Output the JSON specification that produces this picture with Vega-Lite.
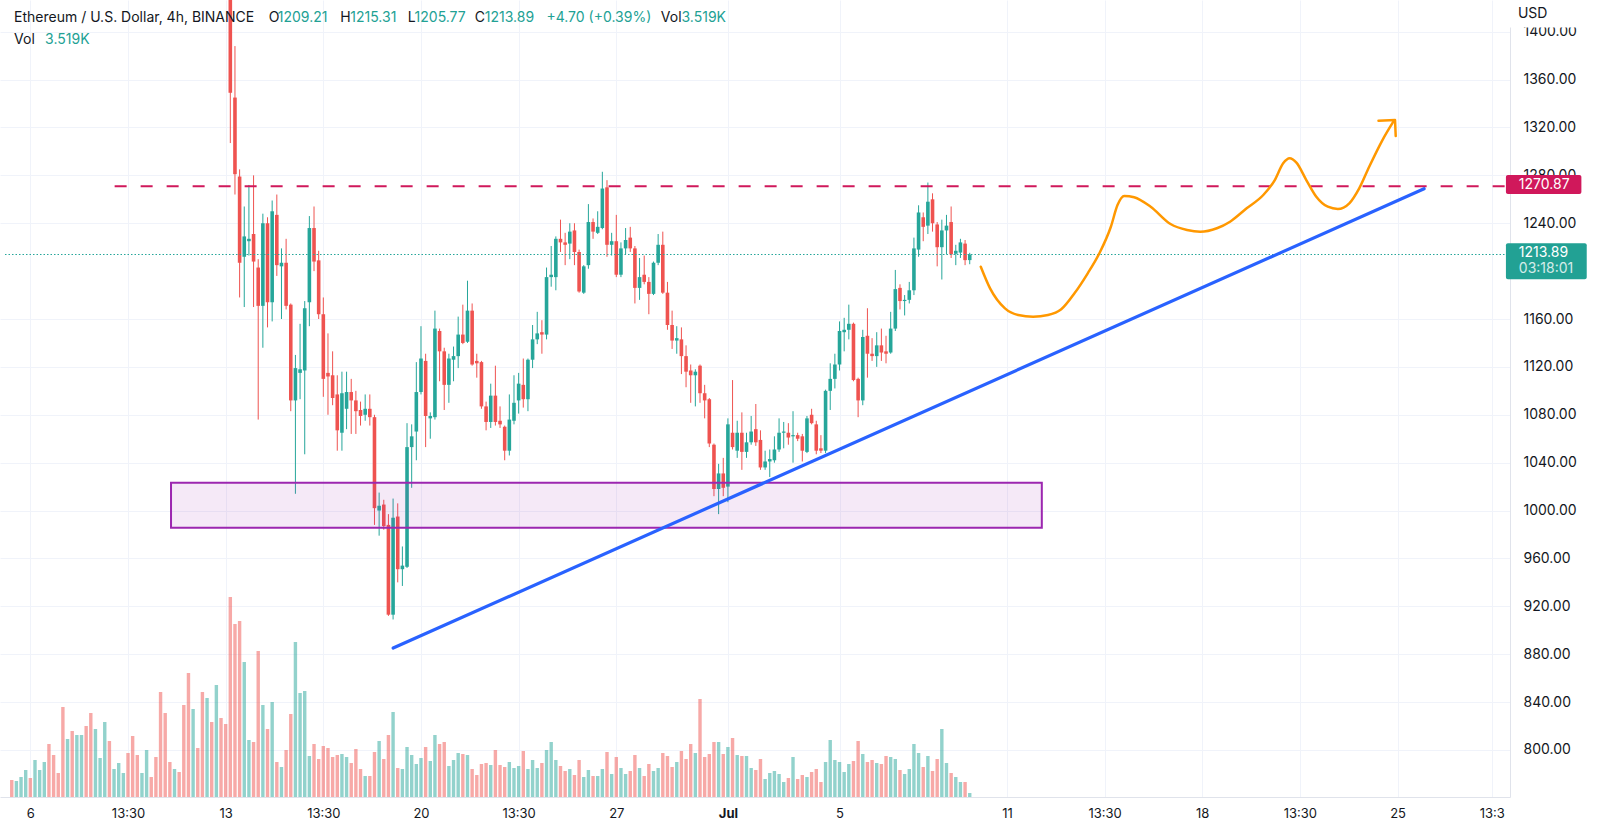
{
  "$schema": "https://vega.github.io/schema/vega-lite/v6.json",
  "width": 1510,
  "height": 797,
  "autosize": "none",
  "padding": {"left": 0, "top": 0, "right": 90, "bottom": 33},
  "background": "#ffffff",
  "config": {"view": {"stroke": null}, "font": "Inter", "axis": {"labelFont": "Inter"}},
  "datasets": {
    "candles": [
      {"t":-16,"v":17,"d":"d"},{"t":-12,"v":16,"d":"u"},{"t":-8,"v":20,"d":"u"},{"t":-4,"v":27,"d":"u"},{"t":0,"v":19,"d":"d"},{"t":4,"v":37,"d":"u"},{"t":8,"v":27,"d":"u"},{"t":12,"v":35,"d":"u"},{"t":16,"v":53,"d":"d"},{"t":20,"v":42,"d":"d"},{"t":24,"v":24,"d":"d"},{"t":28,"v":90,"d":"d"},{"t":32,"v":58,"d":"u"},{"t":36,"v":66,"d":"d"},{"t":40,"v":62,"d":"u"},{"t":44,"v":62,"d":"u"},{"t":48,"v":71,"d":"d"},{"t":52,"v":84,"d":"d"},{"t":56,"v":68,"d":"u"},{"t":60,"v":39,"d":"u"},{"t":64,"v":75,"d":"u"},{"t":68,"v":56,"d":"d"},{"t":72,"v":28,"d":"u"},{"t":76,"v":34,"d":"u"},{"t":80,"v":24,"d":"u"},{"t":84,"v":44,"d":"d"},{"t":88,"v":61,"d":"d"},{"t":92,"v":42,"d":"d"},{"t":96,"v":24,"d":"u"},{"t":100,"v":47,"d":"u"},{"t":104,"v":20,"d":"d"},{"t":108,"v":40,"d":"d"},{"t":112,"v":105,"d":"d"},{"t":116,"v":84,"d":"d"},{"t":120,"v":35,"d":"d"},{"t":124,"v":28,"d":"u"},{"t":128,"v":25,"d":"d"},{"t":132,"v":92,"d":"d"},{"t":136,"v":124,"d":"d"},{"t":140,"v":88,"d":"u"},{"t":144,"v":49,"d":"d"},{"t":148,"v":105,"d":"d"},{"t":152,"v":99,"d":"u"},{"t":156,"v":75,"d":"d"},{"t":160,"v":112,"d":"u"},{"t":164,"v":79,"d":"d"},{"t":168,"v":73,"d":"d"},
      {"t":172,"o":1445,"h":1450,"l":1307,"c":1349,"v":200,"d":"d"},
      {"t":176,"o":1345,"h":1388,"l":1264,"c":1281,"v":173,"d":"d"},
      {"t":180,"o":1279,"h":1285,"l":1178,"c":1207,"v":176,"d":"d"},
      {"t":184,"o":1212,"h":1254,"l":1170,"c":1229,"v":135,"d":"u"},
      {"t":188,"o":1225,"h":1272,"l":1213,"c":1227,"v":57,"d":"u"},
      {"t":192,"o":1231,"h":1280,"l":1170,"c":1208,"v":55,"d":"d"},
      {"t":196,"o":1203,"h":1210,"l":1076,"c":1171,"v":146,"d":"d"},
      {"t":200,"o":1171,"h":1248,"l":1136,"c":1240,"v":92,"d":"u"},
      {"t":204,"o":1240,"h":1245,"l":1153,"c":1174,"v":68,"d":"d"},
      {"t":208,"o":1174,"h":1259,"l":1158,"c":1250,"v":95,"d":"u"},
      {"t":212,"o":1247,"h":1264,"l":1196,"c":1205,"v":35,"d":"d"},
      {"t":216,"o":1204,"h":1219,"l":1160,"c":1207,"v":30,"d":"u"},
      {"t":220,"o":1207,"h":1227,"l":1168,"c":1171,"v":47,"d":"d"},
      {"t":224,"o":1172,"h":1173,"l":1083,"c":1092,"v":83,"d":"d"},
      {"t":228,"o":1092,"h":1130,"l":1014,"c":1119,"v":155,"d":"u"},
      {"t":232,"o":1115,"h":1156,"l":1093,"c":1118,"v":104,"d":"u"},
      {"t":236,"o":1117,"h":1175,"l":1047,"c":1169,"v":106,"d":"u"},
      {"t":240,"o":1174,"h":1246,"l":1154,"c":1236,"v":41,"d":"u"},
      {"t":244,"o":1236,"h":1254,"l":1200,"c":1208,"v":53,"d":"d"},
      {"t":248,"o":1209,"h":1217,"l":1160,"c":1164,"v":38,"d":"d"},
      {"t":252,"o":1164,"h":1178,"l":1095,"c":1110,"v":51,"d":"d"},
      {"t":256,"o":1115,"h":1148,"l":1080,"c":1112,"v":49,"d":"d"},
      {"t":260,"o":1113,"h":1133,"l":1088,"c":1094,"v":40,"d":"d"},
      {"t":264,"o":1097,"h":1113,"l":1050,"c":1067,"v":42,"d":"d"},
      {"t":268,"o":1065,"h":1116,"l":1050,"c":1098,"v":43,"d":"u"},
      {"t":272,"o":1085,"h":1116,"l":1068,"c":1099,"v":40,"d":"u"},
      {"t":276,"o":1099,"h":1110,"l":1064,"c":1092,"v":34,"d":"d"},
      {"t":280,"o":1092,"h":1100,"l":1064,"c":1083,"v":48,"d":"d"},
      {"t":284,"o":1084,"h":1091,"l":1071,"c":1079,"v":28,"d":"d"},
      {"t":288,"o":1080,"h":1097,"l":1075,"c":1085,"v":21,"d":"u"},
      {"t":292,"o":1085,"h":1097,"l":1071,"c":1078,"v":21,"d":"d"},
      {"t":296,"o":1078,"h":1080,"l":988,"c":1002,"v":45,"d":"d"},
      {"t":300,"o":1000,"h":1015,"l":979,"c":1004,"v":56,"d":"u"},
      {"t":304,"o":1005,"h":1009,"l":984,"c":987,"v":38,"d":"d"},
      {"t":308,"o":988,"h":997,"l":912,"c":913,"v":62,"d":"d"},
      {"t":312,"o":913,"h":1010,"l":909,"c":994,"v":85,"d":"u"},
      {"t":316,"o":995,"h":1006,"l":940,"c":951,"v":29,"d":"d"},
      {"t":320,"o":951,"h":970,"l":937,"c":954,"v":28,"d":"u"},
      {"t":324,"o":953,"h":1073,"l":952,"c":1053,"v":50,"d":"u"},
      {"t":328,"o":1053,"h":1072,"l":1019,"c":1062,"v":42,"d":"u"},
      {"t":332,"o":1066,"h":1124,"l":1042,"c":1099,"v":33,"d":"u"},
      {"t":336,"o":1099,"h":1154,"l":1097,"c":1127,"v":39,"d":"u"},
      {"t":340,"o":1125,"h":1131,"l":1053,"c":1079,"v":50,"d":"d"},
      {"t":344,"o":1077,"h":1082,"l":1060,"c":1079,"v":36,"d":"u"},
      {"t":348,"o":1078,"h":1167,"l":1076,"c":1152,"v":62,"d":"u"},
      {"t":352,"o":1150,"h":1152,"l":1108,"c":1133,"v":53,"d":"d"},
      {"t":356,"o":1133,"h":1136,"l":1084,"c":1105,"v":55,"d":"d"},
      {"t":360,"o":1105,"h":1131,"l":1090,"c":1127,"v":31,"d":"u"},
      {"t":364,"o":1126,"h":1137,"l":1108,"c":1129,"v":37,"d":"u"},
      {"t":368,"o":1129,"h":1162,"l":1119,"c":1147,"v":44,"d":"u"},
      {"t":372,"o":1147,"h":1172,"l":1139,"c":1140,"v":43,"d":"d"},
      {"t":376,"o":1141,"h":1192,"l":1140,"c":1167,"v":42,"d":"u"},
      {"t":380,"o":1167,"h":1173,"l":1121,"c":1122,"v":28,"d":"d"},
      {"t":384,"o":1125,"h":1131,"l":1111,"c":1123,"v":22,"d":"d"},
      {"t":388,"o":1124,"h":1125,"l":1085,"c":1087,"v":33,"d":"d"},
      {"t":392,"o":1087,"h":1091,"l":1067,"c":1074,"v":34,"d":"d"},
      {"t":396,"o":1074,"h":1106,"l":1069,"c":1096,"v":32,"d":"u"},
      {"t":400,"o":1096,"h":1121,"l":1071,"c":1074,"v":47,"d":"d"},
      {"t":404,"o":1075,"h":1087,"l":1069,"c":1072,"v":32,"d":"d"},
      {"t":408,"o":1070,"h":1071,"l":1042,"c":1050,"v":30,"d":"d"},
      {"t":412,"o":1050,"h":1097,"l":1046,"c":1076,"v":35,"d":"u"},
      {"t":416,"o":1075,"h":1113,"l":1072,"c":1090,"v":29,"d":"u"},
      {"t":420,"o":1092,"h":1115,"l":1081,"c":1106,"v":31,"d":"u"},
      {"t":424,"o":1105,"h":1127,"l":1086,"c":1093,"v":46,"d":"d"},
      {"t":428,"o":1093,"h":1127,"l":1083,"c":1126,"v":28,"d":"u"},
      {"t":432,"o":1126,"h":1155,"l":1119,"c":1143,"v":37,"d":"u"},
      {"t":436,"o":1143,"h":1166,"l":1139,"c":1148,"v":29,"d":"u"},
      {"t":440,"o":1149,"h":1159,"l":1131,"c":1147,"v":34,"d":"d"},
      {"t":444,"o":1147,"h":1203,"l":1143,"c":1195,"v":47,"d":"u"},
      {"t":448,"o":1195,"h":1221,"l":1187,"c":1197,"v":55,"d":"u"},
      {"t":452,"o":1195,"h":1229,"l":1184,"c":1227,"v":37,"d":"u"},
      {"t":456,"o":1227,"h":1243,"l":1216,"c":1224,"v":31,"d":"d"},
      {"t":460,"o":1224,"h":1232,"l":1205,"c":1222,"v":26,"d":"d"},
      {"t":464,"o":1223,"h":1240,"l":1210,"c":1233,"v":28,"d":"u"},
      {"t":468,"o":1234,"h":1240,"l":1205,"c":1216,"v":22,"d":"d"},
      {"t":472,"o":1216,"h":1218,"l":1182,"c":1183,"v":37,"d":"d"},
      {"t":476,"o":1182,"h":1205,"l":1181,"c":1204,"v":20,"d":"u"},
      {"t":480,"o":1205,"h":1256,"l":1202,"c":1241,"v":27,"d":"u"},
      {"t":484,"o":1241,"h":1244,"l":1227,"c":1233,"v":21,"d":"d"},
      {"t":488,"o":1232,"h":1250,"l":1231,"c":1237,"v":21,"d":"u"},
      {"t":492,"o":1236,"h":1283,"l":1235,"c":1269,"v":28,"d":"u"},
      {"t":496,"o":1270,"h":1276,"l":1212,"c":1222,"v":45,"d":"d"},
      {"t":500,"o":1222,"h":1232,"l":1213,"c":1225,"v":23,"d":"u"},
      {"t":504,"o":1225,"h":1247,"l":1195,"c":1197,"v":40,"d":"d"},
      {"t":508,"o":1197,"h":1224,"l":1195,"c":1219,"v":29,"d":"u"},
      {"t":512,"o":1219,"h":1236,"l":1214,"c":1226,"v":23,"d":"u"},
      {"t":516,"o":1228,"h":1237,"l":1216,"c":1219,"v":26,"d":"d"},
      {"t":520,"o":1219,"h":1221,"l":1173,"c":1186,"v":42,"d":"d"},
      {"t":524,"o":1186,"h":1211,"l":1176,"c":1195,"v":29,"d":"u"},
      {"t":528,"o":1197,"h":1213,"l":1189,"c":1191,"v":21,"d":"d"},
      {"t":532,"o":1191,"h":1195,"l":1164,"c":1181,"v":33,"d":"d"},
      {"t":536,"o":1181,"h":1208,"l":1180,"c":1207,"v":26,"d":"u"},
      {"t":540,"o":1207,"h":1231,"l":1205,"c":1222,"v":29,"d":"u"},
      {"t":544,"o":1222,"h":1233,"l":1181,"c":1182,"v":44,"d":"d"},
      {"t":548,"o":1182,"h":1191,"l":1151,"c":1155,"v":41,"d":"d"},
      {"t":552,"o":1155,"h":1167,"l":1135,"c":1142,"v":30,"d":"d"},
      {"t":556,"o":1142,"h":1154,"l":1131,"c":1144,"v":35,"d":"u"},
      {"t":560,"o":1143,"h":1153,"l":1114,"c":1129,"v":46,"d":"d"},
      {"t":564,"o":1129,"h":1138,"l":1103,"c":1116,"v":38,"d":"d"},
      {"t":568,"o":1117,"h":1122,"l":1090,"c":1113,"v":53,"d":"d"},
      {"t":572,"o":1113,"h":1118,"l":1087,"c":1116,"v":44,"d":"u"},
      {"t":576,"o":1121,"h":1122,"l":1090,"c":1098,"v":98,"d":"d"},
      {"t":580,"o":1098,"h":1105,"l":1077,"c":1092,"v":40,"d":"d"},
      {"t":584,"o":1093,"h":1094,"l":1053,"c":1056,"v":43,"d":"d"},
      {"t":588,"o":1055,"h":1056,"l":1012,"c":1018,"v":55,"d":"d"},
      {"t":592,"o":1018,"h":1039,"l":997,"c":1031,"v":55,"d":"u"},
      {"t":596,"o":1031,"h":1044,"l":1012,"c":1019,"v":43,"d":"d"},
      {"t":600,"o":1020,"h":1077,"l":1007,"c":1072,"v":50,"d":"u"},
      {"t":604,"o":1065,"h":1109,"l":1051,"c":1053,"v":59,"d":"d"},
      {"t":608,"o":1050,"h":1075,"l":1044,"c":1065,"v":42,"d":"u"},
      {"t":612,"o":1065,"h":1082,"l":1034,"c":1049,"v":41,"d":"d"},
      {"t":616,"o":1049,"h":1065,"l":1044,"c":1057,"v":41,"d":"u"},
      {"t":620,"o":1057,"h":1079,"l":1055,"c":1066,"v":29,"d":"u"},
      {"t":624,"o":1068,"h":1089,"l":1054,"c":1057,"v":27,"d":"d"},
      {"t":628,"o":1059,"h":1067,"l":1034,"c":1036,"v":38,"d":"d"},
      {"t":632,"o":1036,"h":1050,"l":1034,"c":1041,"v":18,"d":"u"},
      {"t":636,"o":1041,"h":1051,"l":1028,"c":1043,"v":24,"d":"u"},
      {"t":640,"o":1042,"h":1062,"l":1040,"c":1051,"v":26,"d":"u"},
      {"t":644,"o":1051,"h":1077,"l":1049,"c":1065,"v":23,"d":"u"},
      {"t":648,"o":1065,"h":1074,"l":1052,"c":1066,"v":15,"d":"u"},
      {"t":652,"o":1065,"h":1073,"l":1055,"c":1061,"v":19,"d":"d"},
      {"t":656,"o":1062,"h":1083,"l":1040,"c":1063,"v":40,"d":"u"},
      {"t":660,"o":1063,"h":1065,"l":1058,"c":1060,"v":18,"d":"d"},
      {"t":664,"o":1062,"h":1064,"l":1041,"c":1050,"v":22,"d":"d"},
      {"t":668,"o":1049,"h":1079,"l":1048,"c":1077,"v":20,"d":"u"},
      {"t":672,"o":1080,"h":1085,"l":1072,"c":1073,"v":25,"d":"d"},
      {"t":676,"o":1072,"h":1075,"l":1047,"c":1050,"v":28,"d":"d"},
      {"t":680,"o":1052,"h":1063,"l":1048,"c":1050,"v":15,"d":"d"},
      {"t":684,"o":1050,"h":1101,"l":1048,"c":1100,"v":35,"d":"u"},
      {"t":688,"o":1100,"h":1123,"l":1084,"c":1110,"v":57,"d":"u"},
      {"t":692,"o":1110,"h":1131,"l":1102,"c":1122,"v":37,"d":"u"},
      {"t":696,"o":1122,"h":1158,"l":1117,"c":1150,"v":35,"d":"u"},
      {"t":700,"o":1149,"h":1161,"l":1133,"c":1151,"v":25,"d":"u"},
      {"t":704,"o":1151,"h":1172,"l":1143,"c":1156,"v":33,"d":"u"},
      {"t":708,"o":1156,"h":1157,"l":1108,"c":1109,"v":36,"d":"d"},
      {"t":712,"o":1110,"h":1111,"l":1078,"c":1092,"v":56,"d":"d"},
      {"t":716,"o":1092,"h":1151,"l":1088,"c":1145,"v":43,"d":"u"},
      {"t":720,"o":1146,"h":1169,"l":1111,"c":1131,"v":35,"d":"d"},
      {"t":724,"o":1131,"h":1144,"l":1125,"c":1129,"v":37,"d":"d"},
      {"t":728,"o":1129,"h":1149,"l":1120,"c":1138,"v":34,"d":"u"},
      {"t":732,"o":1138,"h":1152,"l":1125,"c":1132,"v":33,"d":"d"},
      {"t":736,"o":1133,"h":1146,"l":1123,"c":1131,"v":41,"d":"d"},
      {"t":740,"o":1132,"h":1166,"l":1131,"c":1152,"v":40,"d":"u"},
      {"t":744,"o":1152,"h":1201,"l":1150,"c":1185,"v":38,"d":"u"},
      {"t":748,"o":1186,"h":1189,"l":1168,"c":1175,"v":27,"d":"d"},
      {"t":752,"o":1175,"h":1180,"l":1163,"c":1176,"v":23,"d":"u"},
      {"t":756,"o":1176,"h":1191,"l":1173,"c":1184,"v":28,"d":"u"},
      {"t":760,"o":1184,"h":1228,"l":1180,"c":1219,"v":53,"d":"u"},
      {"t":764,"o":1218,"h":1255,"l":1212,"c":1249,"v":44,"d":"u"},
      {"t":768,"o":1245,"h":1249,"l":1225,"c":1237,"v":30,"d":"d"},
      {"t":772,"o":1238,"h":1274,"l":1231,"c":1258,"v":41,"d":"u"},
      {"t":776,"o":1260,"h":1265,"l":1233,"c":1240,"v":26,"d":"d"},
      {"t":780,"o":1239,"h":1241,"l":1204,"c":1220,"v":38,"d":"d"},
      {"t":784,"o":1220,"h":1243,"l":1193,"c":1234,"v":68,"d":"u"},
      {"t":788,"o":1234,"h":1247,"l":1214,"c":1238,"v":34,"d":"u"},
      {"t":792,"o":1241,"h":1254,"l":1211,"c":1214,"v":24,"d":"d"},
      {"t":796,"o":1214.5,"h":1222,"l":1205,"c":1217,"v":20,"d":"u"},
      {"t":800,"o":1215.5,"h":1227,"l":1211,"c":1224,"v":15,"d":"u"},
      {"t":804,"o":1223,"h":1226,"l":1205,"c":1209.2,"v":15,"d":"d"},
      {"t":808,"o":1209.21,"h":1215.31,"l":1205.77,"c":1213.89,"v":4,"d":"u"}
    ],
    "curve": [
      {"i":1,"t":817.5,"p":1203.7},{"i":2,"t":825.5,"p":1185.6},{"i":3,"t":838.3,"p":1168.9},{"i":4,"t":849.7,"p":1163.3},{"i":5,"t":862.5,"p":1161.9},{"i":6,"t":875.3,"p":1163.3},{"i":7,"t":886.7,"p":1168.1},{"i":8,"t":898.1,"p":1181.5},{"i":9,"t":909.5,"p":1198.2},{"i":10,"t":919.5,"p":1214.9},{"i":11,"t":929.4,"p":1237.1},{"i":12,"t":935.1,"p":1255.2},{"i":13,"t":940.9,"p":1262.8},{"i":14,"t":949.4,"p":1261.7},{"i":15,"t":963.6,"p":1253.8},{"i":16,"t":980.7,"p":1239.4},{"i":17,"t":994.9,"p":1234.4},{"i":18,"t":1006.3,"p":1232.9},{"i":19,"t":1020.6,"p":1235.8},{"i":20,"t":1031.9,"p":1241.3},{"i":21,"t":1046.2,"p":1252.5},{"i":22,"t":1060.5,"p":1263.6},{"i":23,"t":1070.4,"p":1276.1},{"i":24,"t":1077.6,"p":1290.1},{"i":25,"t":1083.2,"p":1294.3},{"i":26,"t":1089.0,"p":1290.6},{"i":27,"t":1097.5,"p":1276.1},{"i":28,"t":1106.1,"p":1262.2},{"i":29,"t":1116.0,"p":1253.8},{"i":30,"t":1124.6,"p":1251.9},{"i":31,"t":1134.5,"p":1256.7},{"i":32,"t":1143.0,"p":1269.2},{"i":33,"t":1151.6,"p":1287.2},{"i":34,"t":1163.0,"p":1309.5},{"i":35,"t":1172.9,"p":1325.7}
    ],
    "arrow": [
      {"i":1,"t":1159.6,"p":1325.7},{"i":2,"t":1173.8,"p":1326.3},{"i":3,"t":1174.4,"p":1312.9}
    ],
    "darkText": [
      {"t":-14,"p":1411.1,"s":"Ethereum / U.S. Dollar, 4h, BINANCE"},
      {"t":205,"p":1411.1,"s":"O"},
      {"t":266.6,"p":1411.1,"s":"H"},
      {"t":324.6,"p":1411.1,"s":"L"},
      {"t":382.3,"p":1411.1,"s":"C"},
      {"t":542.3,"p":1411.1,"s":"Vol"},
      {"t":-14,"p":1393.1,"s":"Vol"},
      {"t":1279.5,"p":1414.8,"s":"USD"}
    ],
    "tealText": [
      {"t":212.8,"p":1411.1,"s":"1209.21"},
      {"t":275.2,"p":1411.1,"s":"1215.31"},
      {"t":330.5,"p":1411.1,"s":"1205.77"},
      {"t":390.9,"p":1411.1,"s":"1213.89"},
      {"t":443.9,"p":1411.1,"s":"+4.70 (+0.39%)"},
      {"t":560.1,"p":1411.1,"s":"3.519K"},
      {"t":12.7,"p":1393.1,"s":"3.519K"}
    ]
  },
  "encoding": {
    "x": {
      "field": "t",
      "type": "quantitative",
      "scale": {"domain": [-21.8, 1268.4], "nice": false, "zero": false},
      "axis": {
        "title": null,
        "values": [0, 84, 168, 252, 336, 420, 504, 600, 696, 840, 924, 1008, 1092, 1176, 1257],
        "labelExpr": "['6','13:30','13','13:30','20','13:30','27','Jul','5','11','13:30','18','13:30','25','13:3'][indexof([0,84,168,252,336,420,504,600,696,840,924,1008,1092,1176,1257], datum.value)]",
        "grid": true,
        "gridColor": "#f0f3fa",
        "domainColor": "#e0e3eb",
        "ticks": false,
        "labelPadding": 10,
        "labelFontSize": 13,
        "labelColor": "#131722",
        "labelFlush": false,
        "labelOverlap": false,
        "labelFontWeight": {"condition": {"test": "datum.value == 600", "value": "bold"}, "value": "normal"}
      }
    }
  },
  "layer": [
    {
      "data": {"name": "candles"},
      "mark": {"type": "bar", "size": 3.4, "opacity": 0.5, "orient": "vertical"},
      "encoding": {
        "y": {"field": "v", "type": "quantitative", "scale": {"domain": [0, 797], "nice": false}, "axis": null},
        "color": {"field": "d", "type": "nominal", "scale": {"domain": ["u", "d"], "range": ["#26a69a", "#ef5350"]}, "legend": null}
      }
    },
    {
      "data": {"name": "candles"},
      "transform": [{"filter": "isValid(datum.o)"}],
      "mark": {"type": "rule", "strokeWidth": 1, "clip": true},
      "encoding": {
        "y": {"field": "l", "type": "quantitative", "scale": {"domain": [760.7, 1426.5], "nice": false, "zero": false}, "axis": null},
        "y2": {"field": "h"},
        "color": {"field": "d", "type": "nominal", "scale": {"domain": ["u", "d"], "range": ["#26a69a", "#ef5350"]}, "legend": null}
      }
    },
    {
      "data": {"name": "candles"},
      "transform": [{"filter": "isValid(datum.o)"}],
      "mark": {"type": "bar", "size": 3.6, "orient": "vertical", "clip": true},
      "encoding": {
        "y": {
          "field": "o",
          "type": "quantitative",
          "scale": {"domain": [760.7, 1426.5], "nice": false, "zero": false},
          "axis": {
            "orient": "right",
            "title": null,
            "values": [800, 840, 880, 920, 960, 1000, 1040, 1080, 1120, 1160, 1240, 1280, 1320, 1360, 1400],
            "format": ".2f",
            "labelAlign": "left",
            "labelBaseline": "middle",
            "labelPadding": 13,
            "labelFontSize": 14,
            "labelColor": "#131722",
            "labelFlush": false,
            "labelOverlap": false,
            "grid": true,
            "gridColor": "#f0f3fa",
            "domainColor": "#e0e3eb",
            "ticks": false
          }
        },
        "y2": {"field": "c"},
        "color": {"field": "d", "type": "nominal", "scale": {"domain": ["u", "d"], "range": ["#26a69a", "#ef5350"]}, "legend": null}
      }
    },
    {
      "data": {"values": [{"t": 121, "t2": 870, "p": 985.6, "p2": 1023.2}]},
      "mark": {"type": "rect", "fill": "#9c27b0", "fillOpacity": 0.1, "stroke": "#9c27b0", "strokeWidth": 2},
      "encoding": {
        "x2": {"field": "t2"},
        "y": {"field": "p", "type": "quantitative", "scale": {"domain": [760.7, 1426.5], "nice": false, "zero": false}, "axis": null},
        "y2": {"field": "p2"}
      }
    },
    {
      "data": {"values": [{"t": -21.8, "t2": 1268.4, "p": 1213.89}]},
      "mark": {"type": "rule", "color": "#26a69a", "strokeWidth": 1, "strokeDash": [1.5, 2]},
      "encoding": {
        "x2": {"field": "t2"},
        "y": {"field": "p", "type": "quantitative", "scale": {"domain": [760.7, 1426.5], "nice": false, "zero": false}, "axis": null}
      }
    },
    {
      "data": {"values": [{"t": 72.5, "t2": 1268.4, "p": 1270.87}]},
      "mark": {"type": "rule", "color": "#d0185b", "strokeWidth": 2, "strokeDash": [12, 14]},
      "encoding": {
        "x2": {"field": "t2"},
        "y": {"field": "p", "type": "quantitative", "scale": {"domain": [760.7, 1426.5], "nice": false, "zero": false}, "axis": null}
      }
    },
    {
      "data": {"values": [{"t": 312.1, "p": 885.1}, {"t": 1198.8, "p": 1268.8}]},
      "mark": {"type": "line", "color": "#2962ff", "strokeWidth": 3.2, "strokeCap": "round"},
      "encoding": {
        "y": {"field": "p", "type": "quantitative", "scale": {"domain": [760.7, 1426.5], "nice": false, "zero": false}, "axis": null}
      }
    },
    {
      "data": {"name": "curve"},
      "mark": {"type": "line", "color": "#ff9800", "strokeWidth": 2.5, "interpolate": "monotone", "strokeCap": "round"},
      "encoding": {
        "y": {"field": "p", "type": "quantitative", "scale": {"domain": [760.7, 1426.5], "nice": false, "zero": false}, "axis": null},
        "order": {"field": "i", "type": "quantitative"}
      }
    },
    {
      "data": {"name": "arrow"},
      "mark": {"type": "line", "color": "#ff9800", "strokeWidth": 2.5, "strokeCap": "round", "strokeJoin": "round"},
      "encoding": {
        "y": {"field": "p", "type": "quantitative", "scale": {"domain": [760.7, 1426.5], "nice": false, "zero": false}, "axis": null},
        "order": {"field": "i", "type": "quantitative"}
      }
    },
    {
      "data": {"values": [{"t": 1269.2, "t2": 1345.4, "p": 1403.5, "p2": 1432}]},
      "mark": {"type": "rect", "fill": "#ffffff"},
      "encoding": {
        "x2": {"field": "t2"},
        "y": {"field": "p", "type": "quantitative", "scale": {"domain": [760.7, 1426.5], "nice": false, "zero": false}, "axis": null},
        "y2": {"field": "p2"}
      }
    },
    {
      "data": {"values": [{"t": 1269.2, "t2": 1334.1, "p": 1264.4, "p2": 1280.3}]},
      "mark": {"type": "rect", "fill": "#d0185b", "cornerRadius": 2},
      "encoding": {
        "x2": {"field": "t2"},
        "y": {"field": "p", "type": "quantitative", "scale": {"domain": [760.7, 1426.5], "nice": false, "zero": false}, "axis": null},
        "y2": {"field": "p2"}
      }
    },
    {
      "data": {"values": [{"t": 1269.2, "t2": 1338.7, "p": 1193.2, "p2": 1223.2}]},
      "mark": {"type": "rect", "fill": "#22a194", "cornerRadius": 2},
      "encoding": {
        "x2": {"field": "t2"},
        "y": {"field": "p", "type": "quantitative", "scale": {"domain": [760.7, 1426.5], "nice": false, "zero": false}, "axis": null},
        "y2": {"field": "p2"}
      }
    },
    {
      "data": {"values": [{"t": 1280.3, "p": 1272.3, "s": "1270.87"}, {"t": 1280.3, "p": 1215.2, "s": "1213.89"}]},
      "mark": {"type": "text", "align": "left", "baseline": "middle", "font": "Inter", "fontSize": 14, "color": "#ffffff"},
      "encoding": {
        "y": {"field": "p", "type": "quantitative", "scale": {"domain": [760.7, 1426.5], "nice": false, "zero": false}, "axis": null},
        "text": {"field": "s"}
      }
    },
    {
      "data": {"values": [{"t": 1280.3, "p": 1201.8, "s": "03:18:01"}]},
      "mark": {"type": "text", "align": "left", "baseline": "middle", "font": "Inter", "fontSize": 14, "color": "#ffffff", "opacity": 0.8},
      "encoding": {
        "y": {"field": "p", "type": "quantitative", "scale": {"domain": [760.7, 1426.5], "nice": false, "zero": false}, "axis": null},
        "text": {"field": "s"}
      }
    },
    {
      "data": {"name": "darkText"},
      "mark": {"type": "text", "align": "left", "baseline": "middle", "font": "Inter", "fontSize": 14, "color": "#131722"},
      "encoding": {
        "y": {"field": "p", "type": "quantitative", "scale": {"domain": [760.7, 1426.5], "nice": false, "zero": false}, "axis": null},
        "text": {"field": "s"}
      }
    },
    {
      "data": {"name": "tealText"},
      "mark": {"type": "text", "align": "left", "baseline": "middle", "font": "Inter", "fontSize": 14, "color": "#22a194"},
      "encoding": {
        "y": {"field": "p", "type": "quantitative", "scale": {"domain": [760.7, 1426.5], "nice": false, "zero": false}, "axis": null},
        "text": {"field": "s"}
      }
    }
  ],
  "resolve": {"scale": {"y": "independent"}}
}
